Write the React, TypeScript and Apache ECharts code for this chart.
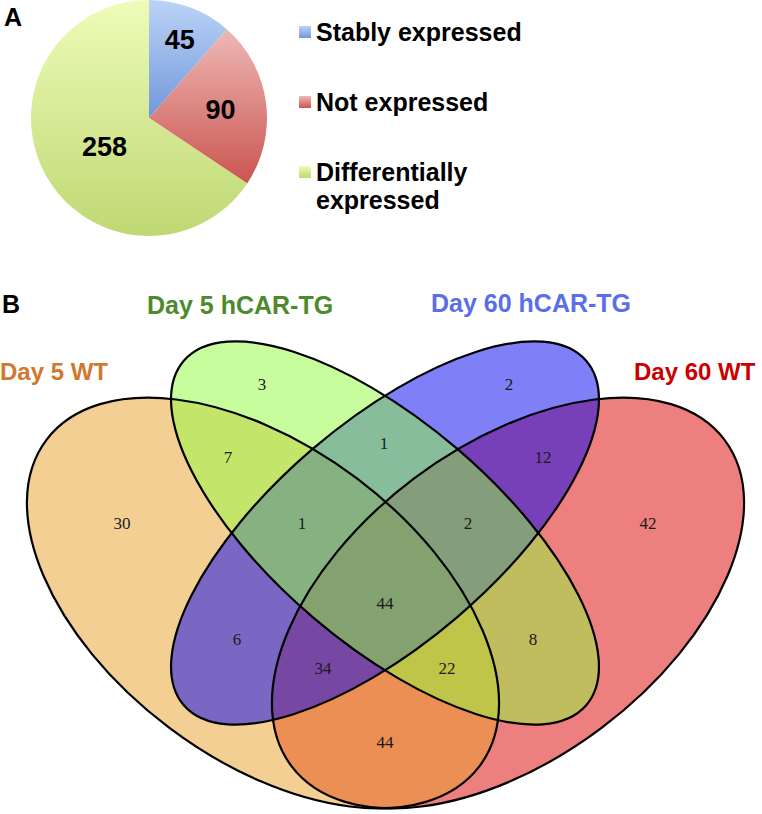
import React, { useEffect, useRef } from "react";
import * as echarts from "echarts";

// ---------- data ----------
const PIE_CATEGORIES = ["Stably expressed", "Not expressed", "Differentially expressed"];
const PIE_VALUES = [45, 90, 258];
// leading empty line keeps the legend square aligned with the first text line
const LEGEND_LABELS = ["Stably expressed", "Not expressed", "\nDifferentially\nexpressed"];

const VENN_SETS = ["Day 5 WT", "Day 5 hCAR-TG", "Day 60 hCAR-TG", "Day 60 WT"];
// region membership, order: Day 5 WT, Day 5 hCAR-TG, Day 60 hCAR-TG, Day 60 WT
const VENN_REGIONS = [
  "1000", "0100", "0010", "0001",
  "1100", "0110", "0011", "1010", "0101",
  "1110", "0111", "1111", "1011", "1101", "1001",
];
const VENN_COUNTS = [30, 3, 2, 42, 7, 1, 12, 6, 8, 1, 2, 44, 34, 22, 44];

// ---------- layout / style ----------
const SANS = "'Liberation Sans', Arial, Helvetica, sans-serif";
const SERIF = "'Liberation Serif', 'Times New Roman', serif";
const W = 762;
const H = 814;

const PIE_CENTER = [149, 118];
const PIE_RADIUS = 118;
const PIE_LABEL_RADIUS = [0.71, 0.61, 0.45];
const PIE_LABEL_ANGLE_SHIFT = [1, 1, -5];
const PIE_GRADIENTS = [
  ["#BBD3F7", "#7297DA"],
  ["#EEB8B5", "#CB5550"],
  ["#EDFCB8", "#BFD873"],
];
const LEGEND_TOPS = [18, 88, 130];

// ellipses in drawing order
const ELLIPSES = [
  { set: 3, cx: 508, cy: 603, rx: 271, ry: 156, rot: 37, rgb: [221, 0, 0] },
  { set: 0, cx: 263, cy: 603, rx: 271, ry: 156, rot: -37, rgb: [233, 159, 41] },
  { set: 2, cx: 385, cy: 533, rx: 265, ry: 111, rot: 40.5, rgb: [0, 0, 241] },
  { set: 1, cx: 385, cy: 533, rx: 265, ry: 111, rot: -40.5, rgb: [145, 252, 62] },
];
const SET_LABEL_STYLE = [
  { x: 0, y: 371, color: "#D0782F", size: 24 },
  { x: 147, y: 305, color: "#4D8A2D", size: 25 },
  { x: 431, y: 303, color: "#5B6EEA", size: 25 },
  { x: 634, y: 371, color: "#CC0000", size: 24 },
];
const REGION_LABEL_POS: Record<string, [number, number]> = {
  "1000": [122, 523],
  "0100": [262, 384],
  "0010": [509, 384],
  "0001": [648, 523],
  "1100": [228, 457],
  "0110": [384, 443],
  "0011": [543, 457],
  "1010": [237, 639],
  "0101": [533, 639],
  "1110": [302, 523],
  "0111": [468, 523],
  "1111": [385, 603],
  "1011": [323, 668],
  "1101": [447, 668],
  "1001": [385, 742],
};

const deg = (d: number) => (d * Math.PI) / 180;

export default function App() {
  const ref = useRef<HTMLDivElement>(null);

  useEffect(() => {
    if (!ref.current) return;
    const chart = echarts.init(ref.current, undefined, { renderer: "svg" });
    const total = PIE_VALUES.reduce((a, b) => a + b, 0);

    const fills = ELLIPSES.map((e) => ({
      type: "ellipse",
      x: e.cx,
      y: e.cy,
      rotation: deg(e.rot),
      shape: { cx: 0, cy: 0, rx: e.rx, ry: e.ry },
      style: { fill: `rgba(${e.rgb[0]},${e.rgb[1]},${e.rgb[2]},0.5)`, stroke: "none" },
      silent: true,
    }));
    const strokes = ELLIPSES.map((e) => ({
      type: "ellipse",
      x: e.cx,
      y: e.cy,
      rotation: deg(e.rot),
      shape: { cx: 0, cy: 0, rx: e.rx, ry: e.ry },
      style: { fill: "none", stroke: "#000", lineWidth: 2.2 },
      silent: true,
    }));
    const regionTexts = VENN_REGIONS.map((key, i) => ({
      type: "text",
      x: REGION_LABEL_POS[key][0],
      y: REGION_LABEL_POS[key][1],
      style: {
        text: String(VENN_COUNTS[i]),
        fill: "#1a1a1a",
        fontSize: 17,
        fontFamily: SERIF,
        align: "center",
        verticalAlign: "middle",
      },
      silent: true,
    }));
    const setTexts = VENN_SETS.map((name, i) => ({
      type: "text",
      x: SET_LABEL_STYLE[i].x,
      y: SET_LABEL_STYLE[i].y,
      style: {
        text: name,
        fill: SET_LABEL_STYLE[i].color,
        fontSize: SET_LABEL_STYLE[i].size,
        fontWeight: "bold",
        fontFamily: SANS,
        align: "left",
        verticalAlign: "middle",
      },
      silent: true,
    }));
    const panelTexts = [
      { t: "A", x: 4, y: 17 },
      { t: "B", x: 2, y: 304 },
    ].map((p) => ({
      type: "text",
      x: p.x,
      y: p.y,
      style: {
        text: p.t,
        fill: "#000",
        fontSize: 25,
        fontWeight: "bold",
        fontFamily: SANS,
        align: "left",
        verticalAlign: "middle",
      },
      silent: true,
    }));

    chart.setOption({
      animation: false,
      legend: LEGEND_LABELS.map((lab, i) => ({
        data: [PIE_CATEGORIES[i]],
        orient: "vertical",
        left: 299,
        top: LEGEND_TOPS[i],
        padding: 0,
        itemWidth: 12,
        itemHeight: 12,
        icon: "rect",
        selectedMode: false,
        formatter: () => lab,
        textStyle: {
          fontSize: 25,
          fontWeight: "bold",
          color: "#000",
          fontFamily: SANS,
          lineHeight: 28,
        },
      })),
      series: [
        {
          type: "pie",
          center: PIE_CENTER,
          radius: PIE_RADIUS,
          startAngle: 90,
          clockwise: true,
          silent: true,
          emphasis: { disabled: true },
          itemStyle: { borderWidth: 0 },
          labelLine: { show: false },
          label: {
            show: true,
            position: "inside",
            formatter: "{c}",
            fontSize: 27,
            fontWeight: "bold",
            color: "#000",
            fontFamily: SANS,
          },
          labelLayout: (p: any) => {
            const i = p.dataIndex;
            const before = PIE_VALUES.slice(0, i).reduce((a, b) => a + b, 0);
            const mid =
              ((before + PIE_VALUES[i] / 2) / total) * 2 * Math.PI + deg(PIE_LABEL_ANGLE_SHIFT[i]);
            const r = PIE_RADIUS * PIE_LABEL_RADIUS[i];
            return {
              x: PIE_CENTER[0] + r * Math.sin(mid),
              y: PIE_CENTER[1] - r * Math.cos(mid),
              align: "center",
              verticalAlign: "middle",
            };
          },
          data: PIE_CATEGORIES.map((name, i) => ({
            name,
            value: PIE_VALUES[i],
            itemStyle: {
              color: new echarts.graphic.LinearGradient(0, 0, 0, 1, [
                { offset: 0, color: PIE_GRADIENTS[i][0] },
                { offset: 1, color: PIE_GRADIENTS[i][1] },
              ]),
            },
          })),
        },
      ],
      graphic: [...fills, ...strokes, ...regionTexts, ...setTexts, ...panelTexts],
    });

    return () => chart.dispose();
  }, []);

  return (
    <div
      ref={ref}
      style={{ position: "fixed", left: 0, top: 0, width: W, height: H, background: "#fff" }}
    />
  );
}
